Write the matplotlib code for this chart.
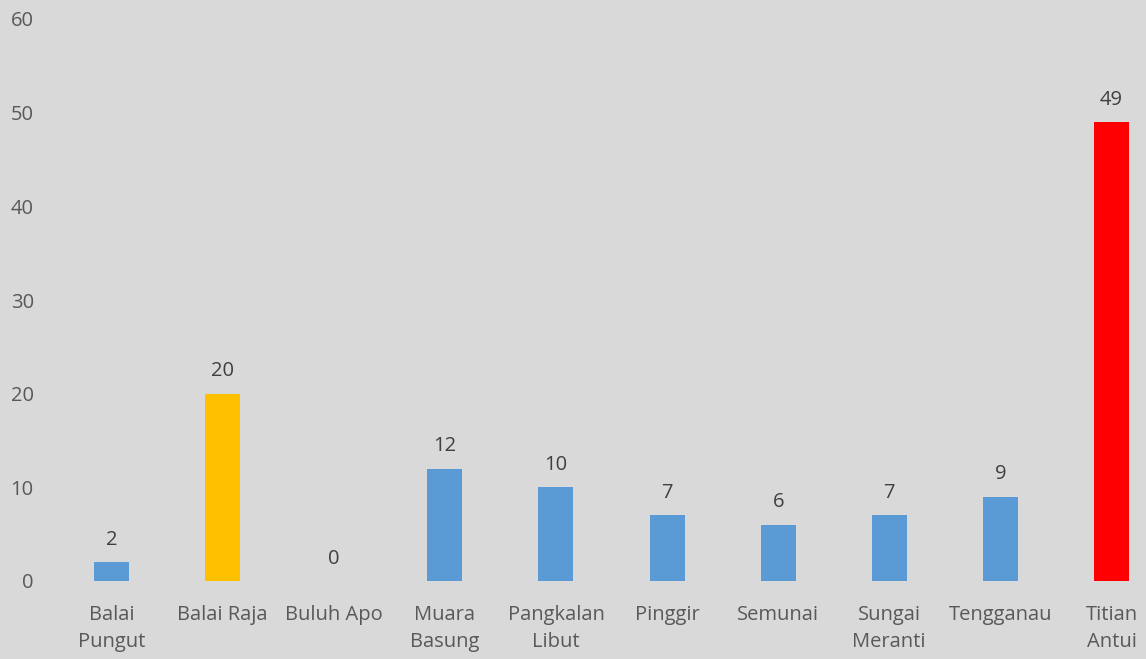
import matplotlib
matplotlib.use("Agg")
import matplotlib.pyplot as plt

categories = ["Balai\nPungut", "Balai Raja", "Buluh Apo", "Muara\nBasung", "Pangkalan\nLibut",
              "Pinggir", "Semunai", "Sungai\nMeranti", "Tengganau", "Titian\nAntui"]
values = [2, 20, 0, 12, 10, 7, 6, 7, 9, 49]
colors = ["#5b9bd5", "#ffc000", "#5b9bd5", "#5b9bd5", "#5b9bd5",
          "#5b9bd5", "#5b9bd5", "#5b9bd5", "#5b9bd5", "#ff0000"]
yticks = [0, 10, 20, 30, 40, 50, 60]

plt.rcParams['font.family'] = ['Open Sans', 'DejaVu Sans']
txt = "#595959"
W, H = 1146, 659
fig = plt.figure(figsize=(W/100, H/100), dpi=100, facecolor="#d9d9d9")
ax = fig.add_axes([56/W, 78/H, (W-56)/W, (581-19)/H])
ax.set_facecolor("#d9d9d9")
x = list(range(len(categories)))
ax.bar(x, values, width=0.315, color=colors)
ax.set_xlim(-0.5, -0.5 + (W-56)/111.1)
ax.set_ylim(0, 60)
ax.set_yticks(yticks)
ax.set_xticks(x)
ax.set_xticklabels(categories, linespacing=1.5)
for s in ax.spines.values():
    s.set_visible(False)
ax.tick_params(axis='both', length=0, colors=txt, labelsize=14.5)
ax.tick_params(axis='x', pad=17)
ax.tick_params(axis='y', pad=16)
for xi, v in zip(x, values):
    ax.annotate(str(v), (xi, v), xytext=(0, 9), textcoords='offset points',
                ha='center', va='bottom', color="#404040", fontsize=14.5)
fig.savefig("out.png", dpi=100, facecolor=fig.get_facecolor())
